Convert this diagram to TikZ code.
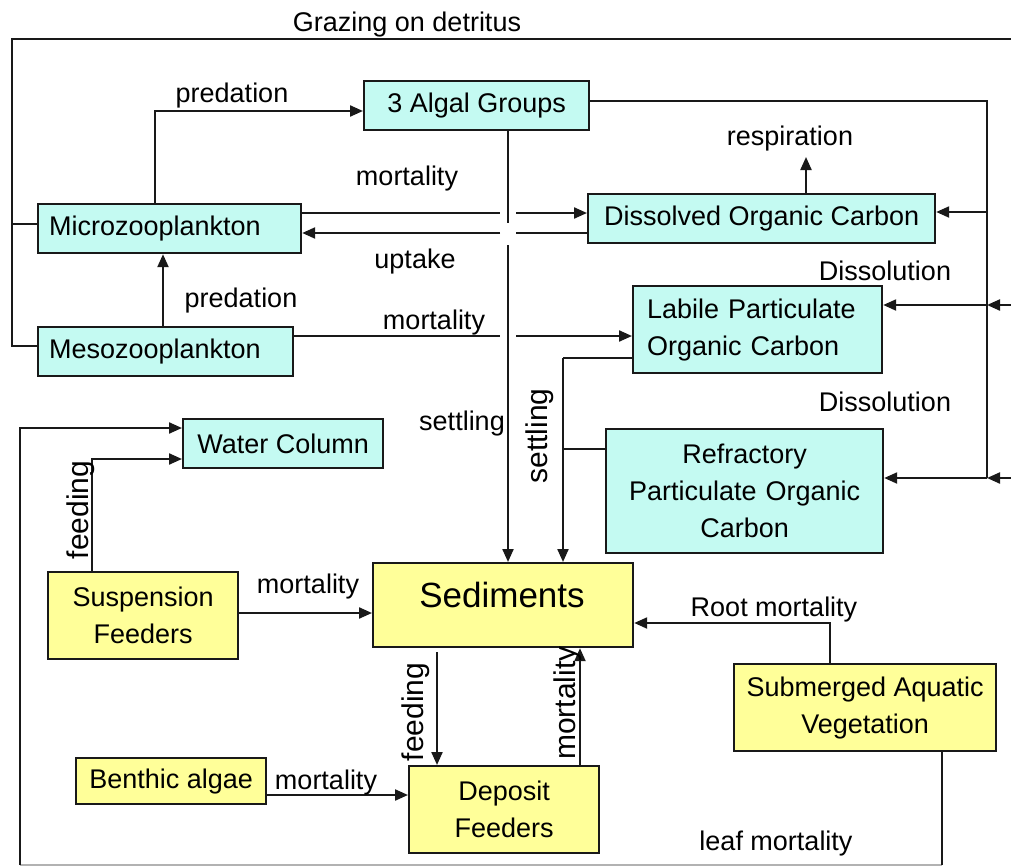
\documentclass[tikz,border=0pt]{standalone}
\usepackage{fontspec}
\setmainfont{Liberation Sans}
\usetikzlibrary{arrows.meta}
\definecolor{cyanfill}{RGB}{196,250,242}
\definecolor{yellowfill}{RGB}{255,255,153}
\definecolor{ink}{RGB}{25,25,25}
\newcommand\txtsz{\fontsize{27}{37}\selectfont}
\newcommand\vtxtsz{\fontsize{30}{36}\selectfont}
\tikzset{
  box/.style={draw=ink, line width=2.2pt, inner sep=0pt, anchor=north west, align=center, font=\txtsz},
  cbox/.style={box, fill=cyanfill},
  ybox/.style={box, fill=yellowfill},
  conn/.style={line width=2.2pt, draw=ink},
  arr/.style={conn, -{Triangle[length=13pt,width=11pt]}},
  lbl/.style={font=\txtsz, anchor=base, inner sep=0pt},
  vlbl/.style={font=\vtxtsz, rotate=90, anchor=base, inner sep=0pt},
}
\begin{document}
\begin{tikzpicture}[x=1pt,y=-1pt]
\useasboundingbox (0,0) rectangle (1011,867);

% ---- compartments ----
\node[cbox, minimum width=225pt, minimum height=49pt] (algal) at (363,80) {3 Algal Groups};
\node[cbox, minimum height=49pt, text width=241pt, inner xsep=11pt, align=left] (micro) at (37,203) {Microzooplankton};
\node[cbox, minimum height=49pt, text width=233pt, inner xsep=11pt, align=left] (meso) at (37,326) {Mesozooplankton};
\node[cbox, minimum width=347pt, minimum height=49pt] (doc) at (587,193) {Dissolved Organic Carbon};
\node[cbox, minimum height=87pt, text width=221pt, inner xsep=14pt, align=left] (lpoc) at (632,285) {Labile Particulate\\Organic Carbon};
\node[cbox, minimum width=277pt, minimum height=124pt, text width=277pt] (rpoc) at (605,428) {Refractory\\Particulate Organic\\Carbon};
\node[cbox, minimum width=200pt, minimum height=49pt] (wc) at (182,418) {Water Column};
\node[ybox, minimum width=190pt, minimum height=87pt] (sf) at (47,571) {Suspension\\Feeders};
\node[ybox, minimum width=260pt, minimum height=84pt] (sed) at (372,562) {};
\node[font=\fontsize{35}{40}\selectfont, anchor=base, inner sep=0pt] (sedtxt) at (502,607) {Sediments};
\node[ybox, minimum width=262pt, minimum height=87pt] (sav) at (733,663) {Submerged Aquatic\\Vegetation};
\node[ybox, minimum width=190pt, minimum height=46pt] (ba) at (75,757) {Benthic algae};
\node[ybox, minimum width=190pt, minimum height=87pt] (df) at (408,765) {Deposit\\Feeders};

% ---- routing points ----
\coordinate (gL) at (12,39);
\coordinate (gR) at (1011,39);
\coordinate (gM) at (12,224);
\coordinate (gB) at (12,346);
\coordinate (pA) at (155,111);
\coordinate (rTop) at (987,101);
\coordinate (rDoc) at (987,212);
\coordinate (rLab) at (987,305);
\coordinate (rBot) at (987,478);
\coordinate (eLab) at (1011,305);
\coordinate (eRef) at (1011,478);
\coordinate (s1) at (508,223);
\coordinate (s2) at (508,245);
\coordinate (m1a) at (500,213);
\coordinate (m1b) at (516,213);
\coordinate (u1a) at (500,233);
\coordinate (u1b) at (516,233);
\coordinate (resp) at (806,157);
\coordinate (mp) at (163,300);
\coordinate (mm1a) at (500,336);
\coordinate (mm1b) at (516,336);
\coordinate (s3) at (563,358);
\coordinate (s4) at (563,449);
\coordinate (wL) at (20,428);
\coordinate (wB) at (20,865);
\coordinate (sB) at (942,865);
\coordinate (f1) at (92,459);
\coordinate (sm) at (300,613);
\coordinate (sf1) at (437,652);
\coordinate (dm) at (580,700);
\coordinate (bm) at (300,795);
\coordinate (rm) at (830,623);

% ---- grazing on detritus ----
\draw[conn] (gR) -- (gL) -- (gB) -- (meso.west |- gB);
\draw[conn] (gM) -- (micro.west |- gM);

% ---- predation on algae ----
\draw[arr] (micro.north -| pA) |- (algal.west |- pA);

% ---- algae to the right-hand return line ----
\draw[conn] (algal.east |- rTop) -- (rTop) -- (rBot);
\draw[arr] (rDoc) -- (doc.east |- rDoc);
\draw[arr] (rLab) -- (lpoc.east |- rLab);
\draw[arr] (rBot) -- (rpoc.east |- rBot);
\draw[arr] (eLab) -- (rLab);
\draw[arr] (eRef) -- (rBot);

% ---- algal settling (with line jump) ----
\draw[conn] (algal.south -| s1) -- (s1);
\draw[arr] (s2) -- (sed.north -| s2);

% ---- mortality and uptake between microzooplankton and DOC ----
\draw[conn] (micro.east |- m1a) -- (m1a);
\draw[arr] (m1b) -- (doc.west |- m1b);
\draw[conn] (doc.west |- u1b) -- (u1b);
\draw[arr] (u1a) -- (micro.east |- u1a);

% ---- respiration ----
\draw[arr] (doc.north -| resp) -- (resp);

% ---- mesozooplankton ----
\draw[arr] (meso.north -| mp) -- (micro.south -| mp);
\draw[conn] (meso.east |- mm1a) -- (mm1a);
\draw[arr] (mm1b) -- (lpoc.west |- mm1b);

% ---- particulate settling ----
\draw[conn] (lpoc.west |- s3) -- (s3);
\draw[conn] (rpoc.west |- s4) -- (s4);
\draw[arr] (s3) -- (sed.north -| s3);

% ---- benthic loop ----
\draw[conn, draw=black!30] (wB) -- (sB);
\draw[arr] (wB) -- (wL) -- (wc.west |- wL);
\draw[conn] (sav.south -| sB) -- (sB);
\draw[arr] (sf.north -| f1) -- (f1) -- (wc.west |- f1);
\draw[arr] (sf.east |- sm) -- (sed.west |- sm);
\draw[arr] (sf1) -- (df.north -| sf1);
\draw[arr] (df.north -| dm) -- (sed.south -| dm);
\draw[arr] (ba.east |- bm) -- (df.west |- bm);
\draw[arr] (sav.north -| rm) -- (rm) -- (sed.east |- rm);

% ---- flow labels ----
\node[lbl] (tGraze) at (407,32) {Grazing on detritus};
\node[lbl] (tPred1) at (232,102) {predation};
\node[lbl] (tMort1) at (407,185) {mortality};
\node[lbl] (tUpt) at (415,268) {uptake};
\node[lbl] (tResp) at (790,145) {respiration};
\node[lbl] (tDis1) at (885,280) {Dissolution};
\node[lbl] (tDis2) at (885,411) {Dissolution};
\node[lbl] (tPred2) at (241,307) {predation};
\node[lbl] (tMort2) at (434,329) {mortality};
\node[lbl] (tSet1) at (462,430) {settling};
\node[vlbl] (tSet2) at (547,436) {settling};
\node[vlbl] (tFeed1) at (88,510) {feeding};
\node[lbl] (tMort3) at (308,593) {mortality};
\node[lbl] (tRoot) at (774,616) {Root mortality};
\node[vlbl] (tFeed2) at (423,712) {feeding};
\node[vlbl] (tMort4) at (575,703) {mortality};
\node[lbl] (tMort5) at (326,789) {mortality};
\node[lbl] (tLeaf) at (776,850) {leaf mortality};
\end{tikzpicture}
\end{document}
